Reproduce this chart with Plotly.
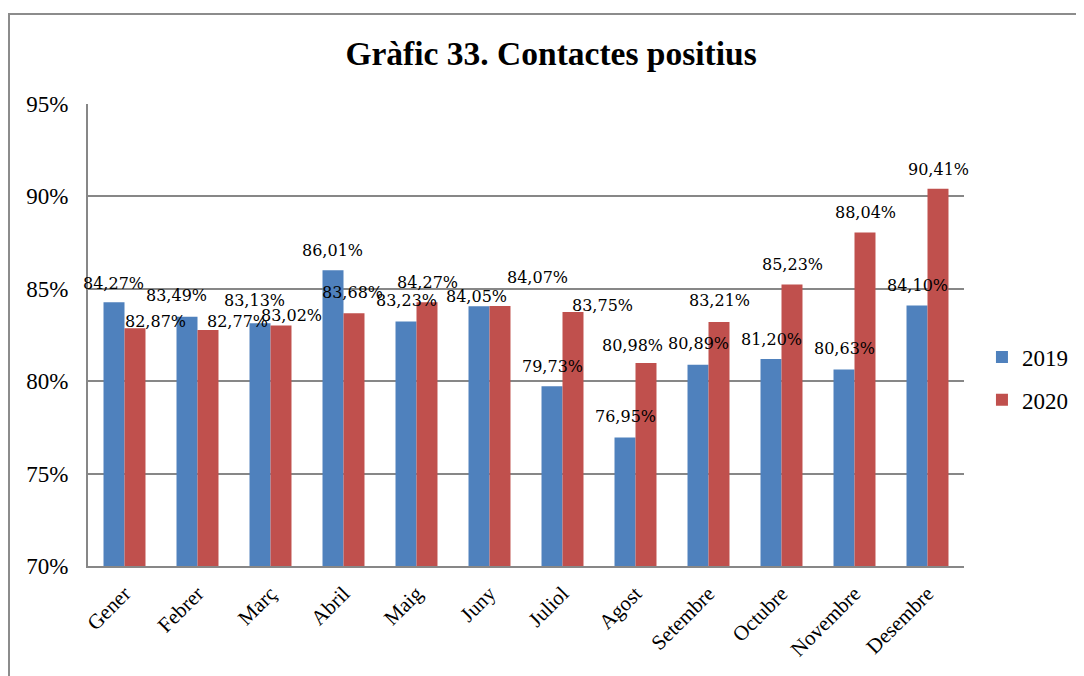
import plotly.graph_objects as go

months = ["Gener", "Febrer", "Març", "Abril", "Maig", "Juny", "Juliol", "Agost",
          "Setembre", "Octubre", "Novembre", "Desembre"]
v2019 = [84.27, 83.49, 83.13, 86.01, 83.23, 84.05, 79.73, 76.95, 80.89, 81.20, 80.63, 84.10]
v2020 = [82.87, 82.77, 83.02, 83.68, 84.27, 84.07, 83.75, 80.98, 83.21, 85.23, 88.04, 90.41]
y_ticks = [70, 75, 80, 85, 90, 95]
y_tick_text = ["70%", "75%", "80%", "85%", "90%", "95%"]

# label placement nudges (pixels) as in the original, hand-moved labels
dx19 = [-1, -11, -6, -1, 0, -3, 0, 0, 0, 0, 0, 0]
dy19 = [19, 21, 23, 20, 21, 10, 20, 21, 21, 20, 21, 20]
dx20 = [20, 29, 10, -2, 0, 37, 29, -14, 0, 0, 0, 0]
dy20 = [7, 9, 10, 21, 20, 28, 6, 18, 21, 20, 20, 19]

def lab(v):
    return f"{v:.2f}".replace(".", ",") + "%"

FONT = "Liberation Serif"
LABEL_FONT = "DejaVu Serif"
BLUE = "#4F81BD"
RED = "#C0504D"
GRID = "#878787"

fig = go.Figure()
fig.add_trace(go.Bar(x=months, y=v2019, name="2019", marker_color=BLUE,
                     legendgroup="a", marker_line_width=0))
fig.add_trace(go.Bar(x=months, y=v2020, name="2020", marker_color=RED,
                     legendgroup="b", marker_line_width=0))

for i, m in enumerate(months):
    fig.add_annotation(x=m, y=v2019[i], xref="x", yref="y", text=lab(v2019[i]),
                       showarrow=False, xanchor="center", yanchor="middle",
                       xshift=-10.5 + dx19[i], yshift=dy19[i],
                       font=dict(family=LABEL_FONT, size=16, color="#000"))
    fig.add_annotation(x=m, y=v2020[i], xref="x", yref="y", text=lab(v2020[i]),
                       showarrow=False, xanchor="center", yanchor="middle",
                       xshift=10.5 + dx20[i], yshift=dy20[i],
                       font=dict(family=LABEL_FONT, size=16, color="#000"))

fig.update_layout(
    width=1084, height=676,
    margin=dict(l=80, r=128, t=96, b=118),
    paper_bgcolor="white", plot_bgcolor="white",
    barmode="group", bargap=0.425, bargroupgap=0,
    title=dict(text="<b>Gràfic 33. Contactes positius</b>", x=0.501, xanchor="center",
               y=0.933, yanchor="middle",
               font=dict(family=FONT, size=33.5, color="#000")),
    legend=dict(x=1.0205, y=0.406, xanchor="left", yanchor="middle",
                font=dict(family=FONT, size=23, color="#000"),
                tracegroupgap=10, traceorder="grouped"),
    showlegend=True,
    font=dict(family=FONT, color="#000"),
)
fig.update_yaxes(range=[70, 95], tickvals=y_ticks, ticktext=y_tick_text,
                 showgrid=True, gridcolor=GRID, gridwidth=2,
                 showline=True, linecolor=GRID, linewidth=2,
                 ticks="", tickfont=dict(family=FONT, size=23, color="#000"),
                 zeroline=False, ticklabelstandoff=13, automargin=False)
fig.update_xaxes(range=[-0.5, len(months) - 0.5],
                 showline=True, linecolor=GRID, linewidth=2,
                 tickangle=-45, tickfont=dict(family=FONT, size=21, color="#000"),
                 ticks="", ticklabelstandoff=5, automargin=False)
fig.add_shape(type="rect", xref="paper", yref="paper",
              x0=(1 - 80) / 876, x1=1.4, y0=-0.5, y1=(558 - 6) / 462,
              line=dict(color="#8c8c8c", width=2), fillcolor="rgba(0,0,0,0)", layer="below")

fig.write_html("out.html")
